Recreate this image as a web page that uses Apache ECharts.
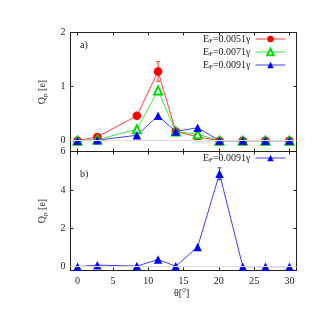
<!DOCTYPE html>
<html><head><meta charset="utf-8">
<script src="https://cdn.jsdelivr.net/npm/echarts@6/dist/echarts.min.js"></script>
<style>html,body{margin:0;padding:0;background:#fff}#c{width:332px;height:320px}</style>
</head><body><div id="c"></div>
<script>
const theta = [0, 2.8, 8.4, 11.4, 13.9, 17.0, 20.1, 23.4, 26.6, 30.0];
const q0051 = [0, 0.07, 0.46, 1.28, 0.17, 0.07, 0, 0, 0, 0];
const q0071 = [0, 0.02, 0.21, 0.93, 0.17, 0.12, 0, 0, 0, 0];
const q0091a = [0, 0.01, 0.10, 0.46, 0.17, 0.24, 0, 0, 0, 0];
const q0091b = [0, 0.08, 0.03, 0.37, 0.02, 1.03, 4.84, 0, 0, 0];
const err0051 = [0, 0, 0, 0.18, 0, 0, 0, 0, 0, 0];
const err0091b = [0, 0, 0, 0, 0, 0, 0.31, 0, 0, 0];
const xTicks = [0, 5, 10, 15, 20, 25, 30];
const yTicksA = [0, 1, 2];
const yTicksB = [0, 2, 4, 6];
const legendA = ['0.0051', '0.0071', '0.0091'];
const legendB = ['0.0091'];

const FONT = 'Liberation Serif';
const AX = '#222';
const pair = (xs, ys) => xs.map((x, i) => [x, ys[i]]);
const errData = (xs, ys, es) => xs.map((x, i) => [x, ys[i], es[i]]).filter(d => d[2] > 0);

function errSeries(xi, yi, data, color) {
  return {
    type: 'custom', xAxisIndex: xi, yAxisIndex: yi, silent: true, z: 1,
    data: data,
    renderItem: function (params, api) {
      const x = api.value(0), y = api.value(1), e = api.value(2);
      const top = api.coord([x, y + e]);
      const bot = api.coord([x, y - e]);
      const st = { stroke: color, lineWidth: 1 };
      return { type: 'group', children: [
        { type: 'line', shape: { x1: top[0], y1: top[1], x2: bot[0], y2: bot[1] }, style: st },
        { type: 'line', shape: { x1: top[0] - 2, y1: top[1], x2: top[0] + 2, y2: top[1] }, style: st },
        { type: 'line', shape: { x1: bot[0] - 2, y1: bot[1], x2: bot[0] + 2, y2: bot[1] }, style: st }
      ]};
    }
  };
}

const sub = { fontFamily: FONT, fontSize: 7, color: '#222', padding: [5, 0, 0, 0], lineHeight: 11 };
const nrm = { fontFamily: FONT, fontSize: 10, color: '#222', lineHeight: 11 };

function xAxisDef(gi, pos, labels) {
  return {
    type: 'value', gridIndex: gi, position: pos, min: -1, max: 31,
    axisLine: { show: true, onZero: false, lineStyle: { color: AX, width: 1 } },
    axisTick: { show: true, inside: true, length: 3, customValues: xTicks, lineStyle: { color: AX } },
    axisLabel: { show: labels, customValues: xTicks, fontFamily: FONT, fontSize: 10, color: '#222', margin: 6 },
    splitLine: { show: false }
  };
}
function yAxisDef(gi, pos, max, ticks, labels) {
  return {
    type: 'value', gridIndex: gi, position: pos, min: -0.2, max: max,
    axisLine: { show: true, onZero: false, lineStyle: { color: AX, width: 1 } },
    axisTick: { show: true, inside: true, length: 3, customValues: ticks, lineStyle: { color: AX } },
    axisLabel: { show: labels, customValues: ticks, fontFamily: FONT, fontSize: 10, color: '#222', margin: 5 },
    splitLine: { show: false },
    name: labels ? '{n|Q}{s|p}{n| [e]}' : '',
    nameLocation: 'middle', nameGap: 22, nameRotate: 90,
    nameTextStyle: { rich: { n: { fontFamily: FONT, fontSize: 10, color: '#222' }, s: { fontFamily: FONT, fontSize: 7, color: '#222', padding: [5, 0, 0, 0] } } }
  };
}

const zeroLine = { silent: true, symbol: 'none', label: { show: false }, lineStyle: { color: '#ddd', type: 'solid', width: 1 }, data: [{ yAxis: 0 }] };

function lineSeries(name, xi, yi, data, color, symbol, size, extra) {
  return Object.assign({
    name: name, type: 'line', xAxisIndex: xi, yAxisIndex: yi, data: data,
    symbol: symbol, symbolSize: size, showSymbol: true,
    lineStyle: { color: color, width: 1, opacity: 0.75 },
    itemStyle: { color: color, borderColor: color, borderWidth: symbol === 'emptyTriangle' ? 1.2 : 0 },
    z: 3, animation: false
  }, extra || {});
}

const legendCommon = { orient: 'vertical', align: 'right', right: 46, padding: 0, itemGap: 1, itemWidth: 30, itemHeight: 8,
  lineStyle: { width: 1 }, textStyle: { rich: { n: nrm, s: sub } } };

const chart = echarts.init(document.getElementById('c'), null, { renderer: 'canvas' });
chart.setOption({
  animation: false,
  backgroundColor: '#fff',
  textStyle: { fontFamily: FONT },
  grid: [
    { left: 70.5, width: 226, top: 32.5, height: 119, show: false },
    { left: 70.5, width: 226, top: 151.5, height: 119, show: false }
  ],
  xAxis: [xAxisDef(0, 'bottom', false), xAxisDef(0, 'top', false), xAxisDef(1, 'bottom', true), xAxisDef(1, 'top', false)],
  yAxis: [yAxisDef(0, 'left', 2, yTicksA, true), yAxisDef(0, 'right', 2, yTicksA, false), yAxisDef(1, 'left', 6, yTicksB, true), yAxisDef(1, 'right', 6, yTicksB, false)],
  legend: [
    Object.assign({ data: ['a0', 'a1', 'a2'], top: 33, formatter: n => '{n|E}{s|F}{n|=' + legendA[+n[1]] + 'γ}' }, legendCommon),
    Object.assign({ data: ['b0'], top: 152, formatter: n => '{n|E}{s|F}{n|=' + legendB[0] + 'γ}' }, legendCommon)
  ],
  graphic: [
    { type: 'text', left: 80, top: 40, style: { text: 'a)', font: '10px "Liberation Serif"', fill: '#222' } },
    { type: 'text', left: 80, top: 169, style: { text: 'b)', font: '10px "Liberation Serif"', fill: '#222' } },
    { type: 'text', left: 174, top: 288, style: { text: 'θ[°]', font: '10px "Liberation Serif"', fill: '#222' } }
  ],
  series: [
    errSeries(0, 0, errData(theta, q0051, err0051), '#ff3030'),
    errSeries(2, 2, errData(theta, q0091b, err0091b), '#3030ff'),
    lineSeries('a0', 0, 0, pair(theta, q0051), '#ff0000', 'circle', 8.5, { markLine: zeroLine }),
    lineSeries('a1', 0, 0, pair(theta, q0071), '#00e000', 'emptyTriangle', 8, { itemStyle: { color: '#00dd00', borderColor: '#00dd00', borderWidth: 1.2 } }),
    lineSeries('a2', 0, 0, pair(theta, q0091a), '#0000ff', 'triangle', 8.5),
    lineSeries('b0', 2, 2, pair(theta, q0091b), '#0000ff', 'triangle', 8.5, { markLine: zeroLine })
  ]
});
</script>
</body></html>
